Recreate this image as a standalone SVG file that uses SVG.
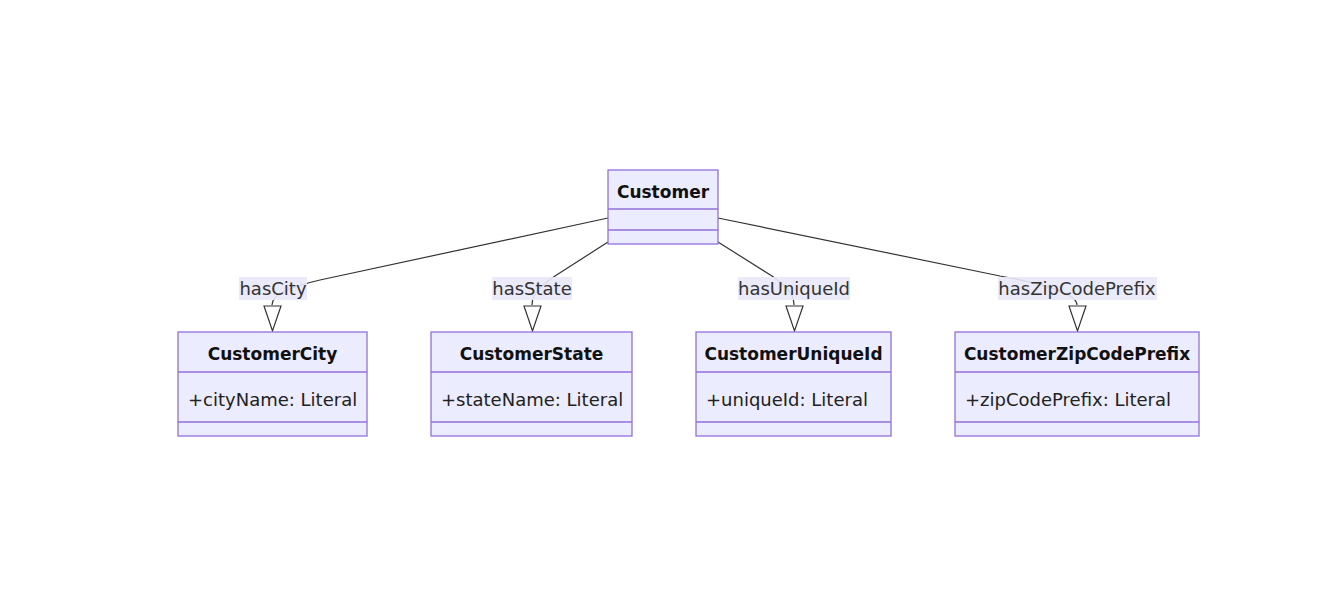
<svg xmlns="http://www.w3.org/2000/svg" width="1343" height="600" viewBox="0 0 1343 600">
<defs>
<style>
.box{fill:#ECECFF;stroke:#9370DB;stroke-width:1.3}
.div{stroke:#9370DB;stroke-width:1.3}
.t{font-family:"DejaVu Sans",Verdana,sans-serif;font-size:17px;font-weight:bold;fill:#111;text-anchor:middle;dominant-baseline:central}
.a{font-family:"DejaVu Sans",Verdana,sans-serif;font-size:18px;fill:#222;dominant-baseline:central}
.lbl{font-family:"DejaVu Sans",Verdana,sans-serif;font-size:18px;fill:#333;text-anchor:middle;dominant-baseline:central}
.lb{fill:#E8E8F8;opacity:0.9}
.e{fill:none;stroke:#333;stroke-width:1.2}
</style>
<marker id="tri" markerWidth="20" markerHeight="28" refX="18" refY="8" orient="auto" markerUnits="userSpaceOnUse" viewBox="0 0 20 16">
<path d="M1,1 L18,8 L1,15 Z" fill="#fff" stroke="#333" stroke-width="1.2"/>
</marker>
</defs>
<rect width="1343" height="600" fill="#fff"/>
<g id="edges">
<path class="e" d="M608,218 L320,280 C290,287 272,294 272,305"/>
<path class="e" d="M608,242 L555,276 C540,286 532,294 532,305"/>
<path class="e" d="M718,242 L772,276 C786,286 794,294 794,305"/>
<path class="e" d="M718,218 L1000,276 C1050,285 1077,294 1077,305"/>
<g id="arrows" fill="#fff" stroke="#333" stroke-width="1.2">
<path d="M264,306 L281,306 L272.5,331 Z"/>
<path d="M524,306 L541,306 L532.5,331 Z"/>
<path d="M786,306 L803,306 L794.5,331 Z"/>
<path d="M1069,306 L1086,306 L1077.5,331 Z"/>
</g>
</g>
<g id="labels">
<rect class="lb" x="239" y="277" width="68" height="23"/>
<text class="lbl" x="273" y="288">hasCity</text>
<rect class="lb" x="492" y="277" width="80" height="23"/>
<text class="lbl" x="532" y="288">hasState</text>
<rect class="lb" x="738" y="277" width="112" height="23"/>
<text class="lbl" x="794" y="288">hasUniqueId</text>
<rect class="lb" x="998" y="277" width="159" height="23"/>
<text class="lbl" x="1077" y="288">hasZipCodePrefix</text>
</g>
<g id="Customer">
<rect class="box" x="608" y="170" width="110" height="74"/>
<line class="div" x1="608" y1="209" x2="718" y2="209"/>
<line class="div" x1="608" y1="230" x2="718" y2="230"/>
<text class="t" x="663" y="192">Customer</text>
</g>
<g id="CustomerCity">
<rect class="box" x="178" y="332" width="189" height="104"/>
<line class="div" x1="178" y1="372" x2="367" y2="372"/>
<line class="div" x1="178" y1="422" x2="367" y2="422"/>
<text class="t" x="272.5" y="354">CustomerCity</text>
<text class="a" x="188" y="399">+cityName: Literal</text>
</g>
<g id="CustomerState">
<rect class="box" x="431" y="332" width="201" height="104"/>
<line class="div" x1="431" y1="372" x2="632" y2="372"/>
<line class="div" x1="431" y1="422" x2="632" y2="422"/>
<text class="t" x="531.5" y="354">CustomerState</text>
<text class="a" x="441" y="399">+stateName: Literal</text>
</g>
<g id="CustomerUniqueId">
<rect class="box" x="696" y="332" width="195" height="104"/>
<line class="div" x1="696" y1="372" x2="891" y2="372"/>
<line class="div" x1="696" y1="422" x2="891" y2="422"/>
<text class="t" x="793.5" y="354">CustomerUniqueId</text>
<text class="a" x="706" y="399">+uniqueId: Literal</text>
</g>
<g id="CustomerZipCodePrefix">
<rect class="box" x="955" y="332" width="244" height="104"/>
<line class="div" x1="955" y1="372" x2="1199" y2="372"/>
<line class="div" x1="955" y1="422" x2="1199" y2="422"/>
<text class="t" x="1077" y="354">CustomerZipCodePrefix</text>
<text class="a" x="965" y="399">+zipCodePrefix: Literal</text>
</g>
</svg>
